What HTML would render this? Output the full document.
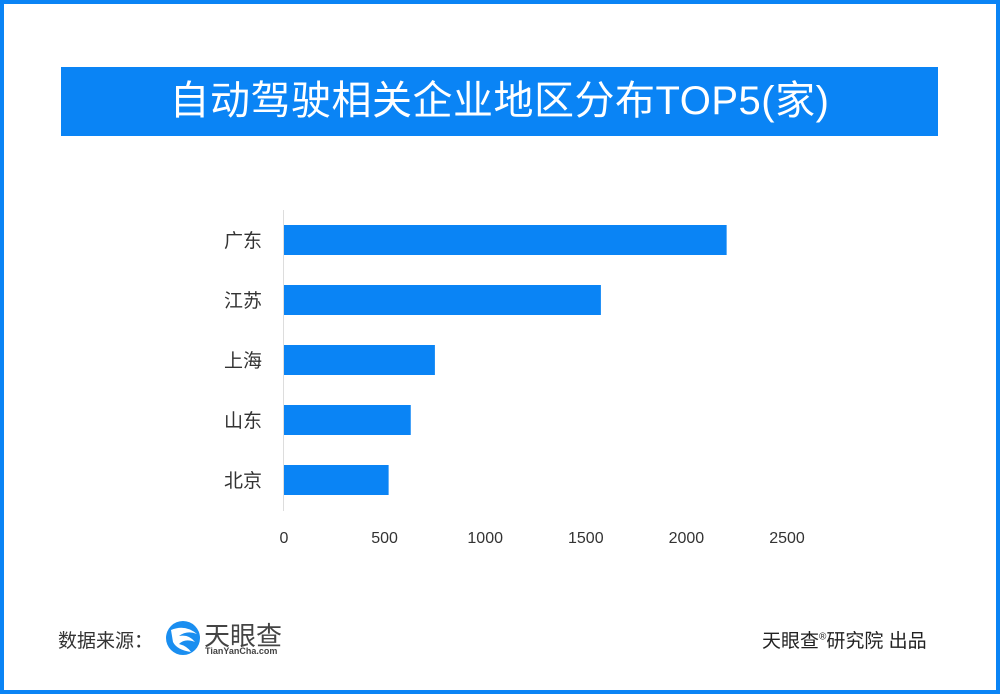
<!DOCTYPE html>
<html><head><meta charset="utf-8">
<style>
body{margin:0;width:1000px;height:694px;overflow:hidden;background:#fff;font-family:"Liberation Sans","Noto Sans CJK SC",sans-serif;}
#frame{position:absolute;left:0;top:0;width:1000px;height:694px;box-sizing:border-box;border:4px solid #0a84f5;}
#title{position:absolute;left:61px;top:67px;width:877px;height:69px;background:#0a84f5;color:#fff;font-size:40px;text-align:center;line-height:69px;letter-spacing:0.5px;}
.txt{position:absolute;color:#333;font-size:19px;}
</style></head><body>
<div id="frame"></div>
<div id="title">自动驾驶相关企业地区分布TOP5(家)</div>
<svg id="chart" width="1000" height="694" style="position:absolute;left:0;top:0"></svg>
<div class="txt" style="left:58px;top:626px;">数据来源：</div>
<svg style="position:absolute;left:165px;top:620px" width="36" height="36" viewBox="0 0 36 36">
<circle cx="18" cy="18" r="17" fill="#1a8ef0"/>
<path d="M6 10 Q20 4 32 14 Q22 10 14 16 Q24 14 30 22 Q20 18 14 24 Q22 26 26 32 Q12 30 8 22 Z" fill="#fff"/>
</svg>
<div style="position:absolute;left:204px;top:616px;font-size:26px;color:#444;">天眼查</div>
<div style="position:absolute;left:205px;top:646px;font-size:9px;color:#444;font-weight:bold;">TianYanCha.com</div>
<div class="txt" style="left:762px;top:626px;color:#222;">天眼查<sup style="font-size:10px">®</sup>研究院 出品</div>
<script>
const categories=["广东","江苏","上海","山东","北京"];
const values=[2200,1575,750,630,520];
const ticks=[0,500,1000,1500,2000,2500];
const svg=document.getElementById('chart');
const NS='http://www.w3.org/2000/svg';
const x0=284,pxPer=503/2500;
const xs=v=>x0+v*pxPer;
const ys=i=>225+i*60;
function mk(t,a){const e=document.createElementNS(NS,t);for(const k in a)e.setAttribute(k,a[k]);svg.appendChild(e);return e;}
const ax=mk('line',{x1:283.5,x2:283.5,y1:210,y2:511,stroke:'#ddd','stroke-width':1});


categories.forEach((c,i)=>{
  const r=mk('rect',{x:x0,y:ys(i),width:xs(values[i])-x0,height:30,fill:'#0a84f5'});
  
  
  const t=mk('text',{x:262,y:ys(i)+22,'text-anchor':'end','font-size':19,fill:'#333'});
  t.textContent=c;
  
  
});
ticks.forEach(v=>{
  const t=mk('text',{x:xs(v),y:543,'text-anchor':'middle','font-size':16,fill:'#333'});
  t.textContent=v;
  
  
});
</script>
</body></html>
